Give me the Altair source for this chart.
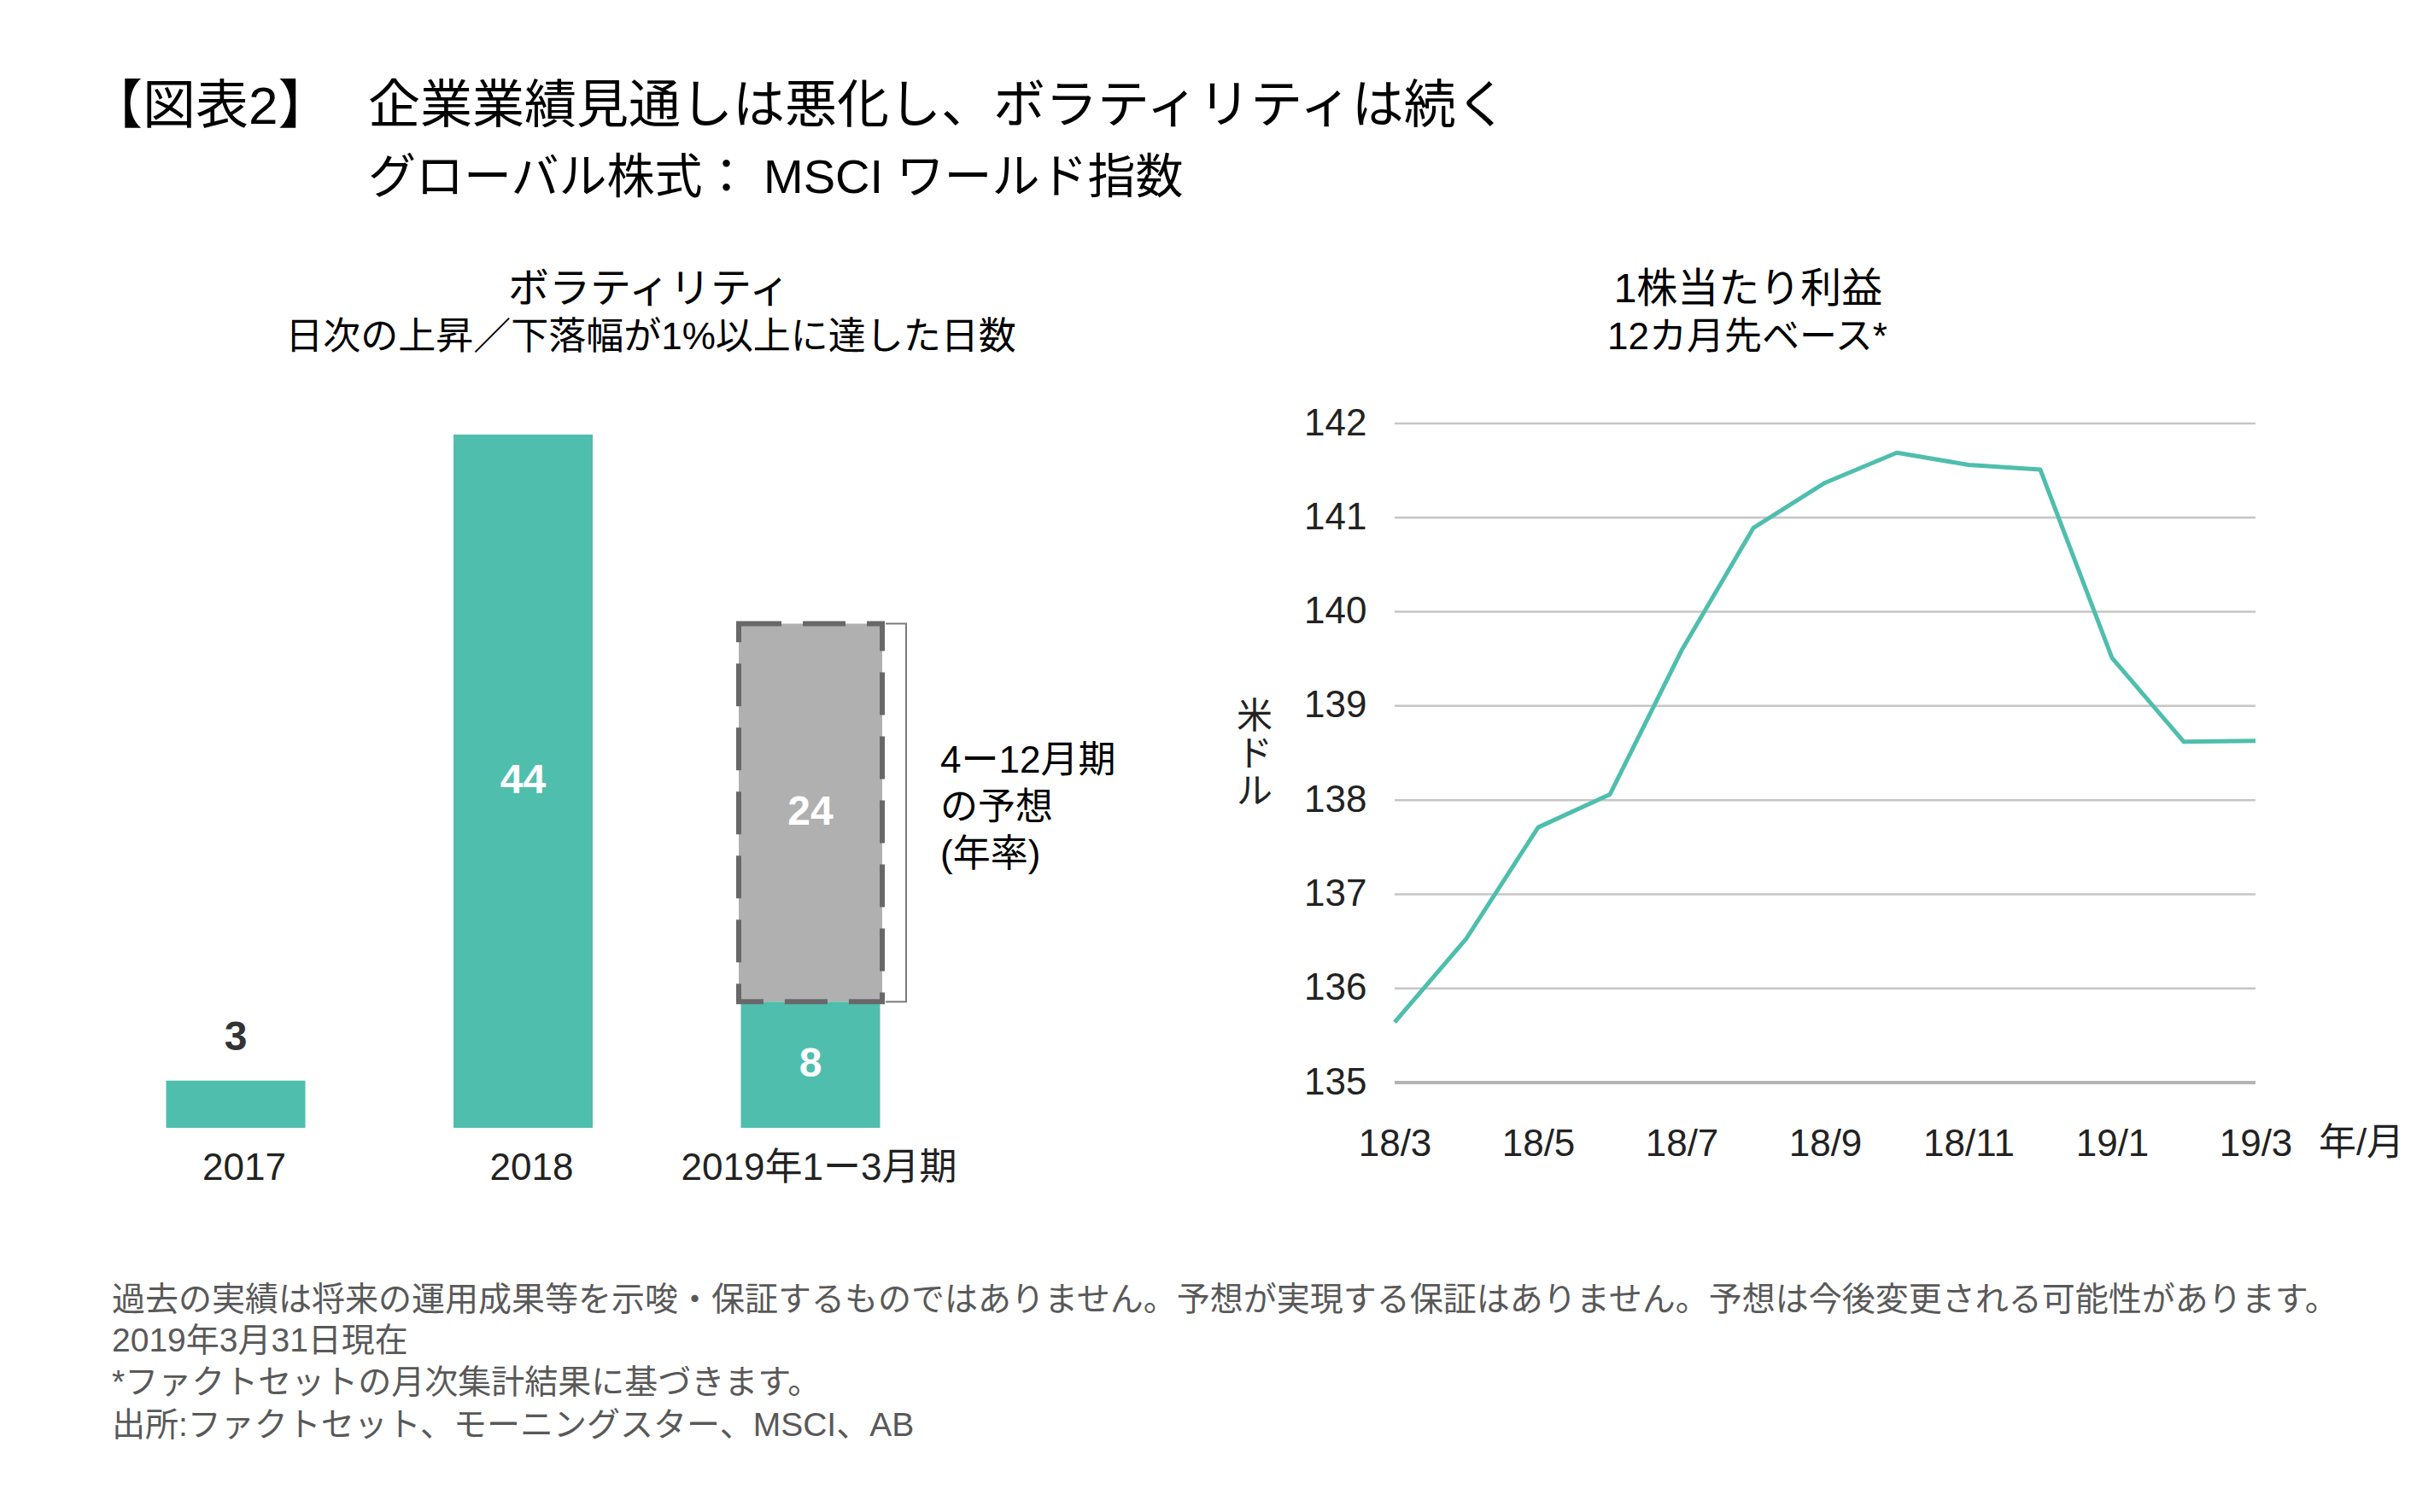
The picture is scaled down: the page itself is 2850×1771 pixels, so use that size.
import altair as alt
import pandas as pd

# ---------------- data ----------------
bar_categories = ["2017", "2018", "2019年1ー3月期"]
bar_actual = [3, 44, 8]
forecast_category = "2019年1ー3月期"
forecast_value = 24

eps_months = ["18/3", "18/4", "18/5", "18/6", "18/7", "18/8", "18/9",
              "18/10", "18/11", "18/12", "19/1", "19/2", "19/3"]
eps_values = [135.64, 136.53, 137.71, 138.06, 139.59, 140.89, 141.37,
              141.69, 141.56, 141.51, 139.51, 138.62, 138.63]
eps_label_months = ["18/3", "18/5", "18/7", "18/9", "18/11", "19/1", "19/3"]
eps_ticks = [135, 136, 137, 138, 139, 140, 141, 142]

title_tag = "【図表2】"
title_main = "企業業績見通しは悪化し、ボラティリティは続く"
title_sub = "グローバル株式： MSCI ワールド指数"
left_title = "ボラティリティ"
left_sub = "日次の上昇／下落幅が1%以上に達した日数"
right_title = "1株当たり利益"
right_sub = "12カ月先ベース*"
forecast_note = ["4ー12月期", "の予想", "(年率)"]
y_unit = ["米", "ド", "ル"]
x_unit = "年/月"
footnotes = [
    "過去の実績は将来の運用成果等を示唆・保証するものではありません。予想が実現する保証はありません。予想は今後変更される可能性があります。",
    "2019年3月31日現在",
    "*ファクトセットの月次集計結果に基づきます。",
    "出所:ファクトセット、モーニングスター、MSCI、AB",
]

# ---------------- styling ----------------
W, H = 2834, 1755
FONT = "Liberation Sans, Noto Sans CJK JP, sans-serif"
TEAL = "#4fbead"
GRAY_FILL = "#b0b0b0"
DASH = "#686868"
TXT = "#222222"


def px(v):
    return v - 8


dummy = pd.DataFrame({"d": [0]})


def txt(s, x, y, size, align="left", color="#000000", weight="normal"):
    return alt.Chart(dummy).mark_text(
        text=s, align=align, baseline="middle", font=FONT, fontSize=size,
        color=color, fontWeight=weight
    ).encode(x=alt.value(px(x)), y=alt.value(px(y)))


# ---------------- bar panel ----------------
df_bars = pd.DataFrame({"cat": bar_categories,
                        "start": [0] * len(bar_actual),
                        "end": bar_actual})
fc_base = bar_actual[bar_categories.index(forecast_category)]
df_fc = pd.DataFrame({"cat": [forecast_category],
                      "start": [fc_base],
                      "end": [fc_base + forecast_value]})

in_cats, in_pos, in_text = [], [], []
for c, v in zip(bar_categories, bar_actual):
    if v >= 8:
        in_cats.append(c); in_pos.append(v / 2); in_text.append(str(v))
in_cats.append(forecast_category)
in_pos.append(fc_base + forecast_value / 2)
in_text.append(str(forecast_value))
df_in = pd.DataFrame({"cat": in_cats, "pos": in_pos, "label": in_text})
df_out = pd.DataFrame({"cat": [c for c, v in zip(bar_categories, bar_actual) if v < 8],
                       "pos": [v for v in bar_actual if v < 8],
                       "label": [str(v) for v in bar_actual if v < 8]})

xb = alt.Scale(type="band", domain=bar_categories, range=[px(107.75), px(1117.25)],
               paddingInner=0, paddingOuter=0)
yb = alt.Scale(domain=[0, 44], range=[px(1321), px(509)], nice=False, zero=False)

teal_bars = alt.Chart(df_bars).mark_bar(color=TEAL, width=163).encode(
    x=alt.X("cat:N", scale=xb, axis=None, sort=None),
    y=alt.Y("start:Q", scale=yb, axis=None),
    y2="end:Q",
)
gray_bar = alt.Chart(df_fc).mark_bar(
    color=GRAY_FILL, width=168, stroke=DASH, strokeWidth=6, strokeDash=[50, 25]
).encode(
    x=alt.X("cat:N", scale=xb, axis=None, sort=None),
    y=alt.Y("start:Q", scale=yb, axis=None),
    y2="end:Q",
)
br_v = alt.Chart(df_fc).mark_rule(color="#7a7a7a", strokeWidth=2).encode(
    x=alt.value(px(1061)), y=alt.Y("start:Q", scale=yb, axis=None), y2="end:Q")
br_t = alt.Chart(df_fc).mark_rule(color="#7a7a7a", strokeWidth=2).encode(
    x=alt.value(px(1037)), x2=alt.value(px(1062)),
    y=alt.Y("end:Q", scale=yb, axis=None))
br_b = alt.Chart(df_fc).mark_rule(color="#7a7a7a", strokeWidth=2).encode(
    x=alt.value(px(1037)), x2=alt.value(px(1062)),
    y=alt.Y("start:Q", scale=yb, axis=None))
lab_in = alt.Chart(df_in).mark_text(
    font=FONT, fontSize=48, fontWeight="bold", color="white", baseline="middle"
).encode(x=alt.X("cat:N", scale=xb, axis=None, sort=None),
         y=alt.Y("pos:Q", scale=yb, axis=None), text="label:N")
lab_out = alt.Chart(df_out).mark_text(
    font=FONT, fontSize=48, fontWeight="bold", color="#333333", baseline="middle", dy=-50
).encode(x=alt.X("cat:N", scale=xb, axis=None, sort=None),
         y=alt.Y("pos:Q", scale=yb, axis=None), text="label:N")
cat_lab = alt.Chart(df_bars).mark_text(
    font=FONT, fontSize=44, color=TXT, baseline="middle", dx=10
).encode(x=alt.X("cat:N", scale=xb, axis=None, sort=None),
         y=alt.value(px(1369)), text="cat:N")

bar_group = alt.layer(teal_bars, gray_bar, br_v, br_t, br_b, lab_in, lab_out, cat_lab)

# ---------------- line panel ----------------
df_eps = pd.DataFrame({"month": eps_months, "eps": eps_values})
df_grid = pd.DataFrame({"v": eps_ticks, "x0": eps_months[0], "x1": eps_months[-1]})

xl = alt.Scale(type="point", domain=eps_months, range=[px(1633), px(2641)], padding=0)
yl = alt.Scale(domain=[135, 142], range=[px(1268), px(496)], nice=False, zero=False)

yaxis = alt.Axis(values=eps_ticks, orient="left", offset=-px(1633), labelPadding=33,
                 ticks=False, tickSize=0, domain=False, grid=False, title=None,
                 labelFont=FONT, labelFontSize=44, labelColor=TXT, format="d")
xaxis = alt.Axis(values=eps_label_months, orient="bottom", offset=px(1268) - H,
                 labelPadding=72, labelBaseline="middle", labelAngle=0, labelOverlap=False,
                 labelFlush=False, ticks=False, tickSize=0, domain=False, grid=False,
                 title=None, labelFont=FONT, labelFontSize=44, labelColor=TXT)

grid = alt.Chart(df_grid).mark_rule().encode(
    x=alt.X("x0:N", scale=xl, axis=xaxis, sort=None),
    x2="x1:N",
    y=alt.Y("v:Q", scale=yl, axis=yaxis),
    color=alt.condition("datum.v == 135", alt.value("#b4b4b4"), alt.value("#c6c6c6")),
    strokeWidth=alt.condition("datum.v == 135", alt.value(4), alt.value(2.5)),
)
line = alt.Chart(df_eps).mark_line(color=TEAL, strokeWidth=5, strokeJoin="round").encode(
    x=alt.X("month:N", scale=xl, axis=xaxis, sort=None),
    y=alt.Y("eps:Q", scale=yl, axis=yaxis),
)
line_group = alt.layer(grid, line)

# ---------------- texts ----------------
texts = [
    txt(title_tag, 105, 126, 62),
    txt(title_main, 431, 126, 61),
    txt(title_sub, 431, 209, 56),
    txt(left_title, 760, 340, 48, align="center"),
    txt(left_sub, 762, 396, 44, align="center"),
    txt(right_title, 2047, 340, 48, align="center"),
    txt(right_sub, 2046, 396, 44, align="center"),
    txt(x_unit, 2765, 1340, 44, align="center", color=TXT),
]
for i, s in enumerate(forecast_note):
    texts.append(txt(s, 1101, 892 + i * 55, 44))
for i, s in enumerate(y_unit):
    texts.append(txt(s, 1469, 840 + i * 44, 42, align="center", color=TXT))
foot_y = [1523, 1571, 1620, 1670]
for s, y in zip(footnotes, foot_y):
    texts.append(txt(s, 131, y, 39, color="#595959"))

chart = alt.layer(bar_group, line_group, *texts).resolve_scale(
    x="independent", y="independent"
).properties(
    width=W, height=H, padding=0, autosize=alt.AutoSizeParams(type="none"),
    background="white"
).configure_view(stroke=None)

chart.save("out.html", embed_options={"renderer": "svg", "actions": False})
